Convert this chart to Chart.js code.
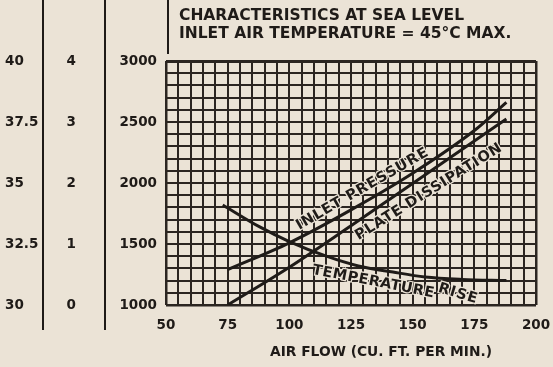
<!DOCTYPE html>
<html>
<head>
<meta charset="utf-8">
<script src="https://cdn.jsdelivr.net/npm/chart.js@4/dist/chart.umd.min.js"></script>
<style>
  html, body { margin: 0; padding: 0; background: #ebe3d6; }
  #wrap { width: 553px; height: 367px; position: relative; }
</style>
</head>
<body>
<div id="wrap"><canvas id="chart"></canvas></div>
<script>
// Air flow (cu. ft. per min.) at which the curves were read
const airFlow = [75, 100, 125, 150, 175, 188];
// Inlet pressure, inches of water
const inletPressure = [0.58, 1.02, 1.56, 2.16, 2.86, 3.32];
// Plate dissipation, watts
const plateDissipation = [1000, 1310, 1650, 1995, 2345, 2525];
// Temperature rise of the cooling air, deg C
const tempAirFlow = [73, 88, 100, 115, 128, 142, 155, 170, 188];
const temperatureRise = [34.1, 33.2, 32.6, 32.0, 31.6, 31.35, 31.15, 31.05, 31.0];

// Labelled ticks
const airFlowTicks = [50, 75, 100, 125, 150, 175, 200];
const dissipationTicks = [1000, 1500, 2000, 2500, 3000];
const pressureTicks = [0, 1, 2, 3, 4];
const temperatureTicks = [30, 32.5, 35, 37.5, 40];

const titleLines = ['CHARACTERISTICS AT SEA LEVEL', 'INLET AIR TEMPERATURE = 45°C MAX.'];
const xTitle = 'AIR FLOW (CU. FT. PER MIN.)';

const INK = '#1f1b18';
const GRID = '#2b2521';
const PAPER = '#ebe3d6';
const FONT = 'DejaVu Sans';

const pts = (xs, ys) => xs.map((x, i) => ({ x, y: ys[i] }));

// Curve captions, placed relative to their curve
const curveLabels = [
  { text: 'INLET PRESSURE', series: 1, at: 132, offset: -12, angle: -30, span: 150 },
  { text: 'PLATE DISSIPATION', series: 0, at: 153, offset: 16, angle: -32, span: 170 },
  { text: 'TEMPERATURE', series: 2, at: 135, offset: 13, angle: 11, span: 124 },
  { text: 'RISE', series: 2, at: 170, offset: 15, angle: 17, span: 40 }
];

function valueAt(data, x) {
  for (let i = 0; i < data.length - 1; i++) {
    const a = data[i], b = data[i + 1];
    if (x >= a.x && x <= b.x) return a.y + (b.y - a.y) * (x - a.x) / (b.x - a.x);
  }
  return data[data.length - 1].y;
}

const decorations = {
  id: 'decorations',
  beforeDraw(chart) {
    const ctx = chart.ctx;
    ctx.save();
    ctx.fillStyle = PAPER;
    ctx.fillRect(0, 0, chart.width, chart.height);
    ctx.restore();
  },
  afterDatasetsDraw(chart) {
    const ctx = chart.ctx;
    const xs = chart.scales.x;
    ctx.save();
    ctx.font = 'bold 14.5px "' + FONT + '"';
    ctx.fillStyle = INK;
    ctx.textAlign = 'center';
    ctx.textBaseline = 'middle';
    curveLabels.forEach(l => {
      const ds = chart.data.datasets[l.series];
      const ys = chart.scales[ds.yAxisID];
      const px = xs.getPixelForValue(l.at);
      const py = ys.getPixelForValue(valueAt(ds.data, l.at));
      const a = l.angle * Math.PI / 180;
      const cx = px - Math.sin(a) * l.offset;
      const cy = py + Math.cos(a) * l.offset;
      ctx.save();
      ctx.translate(cx, cy);
      ctx.rotate(a);
      ctx.letterSpacing = '0px';
      const w0 = ctx.measureText(l.text).width;
      const ls = Math.max(0, (l.span - w0) / (l.text.length - 1));
      ctx.letterSpacing = ls.toFixed(2) + 'px';
      ctx.lineWidth = 2.5;
      ctx.strokeStyle = PAPER;
      ctx.strokeText(l.text, ls / 2, 0);
      ctx.fillText(l.text, ls / 2, 0);
      ctx.restore();
    });
    ctx.restore();
  },
  afterDraw(chart) {
    const ctx = chart.ctx;
    const area = chart.chartArea;
    ctx.save();
    ctx.strokeStyle = INK;
    ctx.lineWidth = 2;
    // column rules between the auxiliary scales
    [chart.scales.yT.right, chart.scales.yP.right].forEach(x => {
      ctx.beginPath();
      ctx.moveTo(x, 0);
      ctx.lineTo(x, area.bottom + 25);
      ctx.stroke();
    });
    ctx.beginPath();
    ctx.moveTo(area.left + 2, 0);
    ctx.lineTo(area.left + 2, area.top - 7);
    ctx.stroke();

    ctx.fillStyle = INK;
    ctx.textAlign = 'left';
    ctx.textBaseline = 'middle';
    ctx.font = 'bold 15.5px "' + FONT + '"';
    ctx.fillText(titleLines[0], area.left + 13, 16);
    ctx.fillText(titleLines[1], area.left + 13, 34);

    ctx.font = 'bold 13.8px "' + FONT + '"';
    ctx.textAlign = 'center';
    ctx.fillText(xTitle, area.left + 215, area.bottom + 47);
    ctx.restore();
  }
};

const tickFont = { family: FONT, size: 13.5, weight: 'bold' };

new Chart(document.getElementById('chart'), {
  type: 'line',
  data: {
    datasets: [
      { label: 'Plate dissipation', data: pts(airFlow, plateDissipation), yAxisID: 'y' },
      { label: 'Inlet pressure', data: pts(airFlow, inletPressure), yAxisID: 'yP' },
      { label: 'Temperature rise', data: pts(tempAirFlow, temperatureRise), yAxisID: 'yT' }
    ]
  },
  options: {
    responsive: true,
    maintainAspectRatio: false,
    animation: false,
    devicePixelRatio: 1,
    layout: { padding: { left: 5, top: 61, right: 17, bottom: 0 } },
    elements: {
      line: { borderColor: INK, borderWidth: 3, cubicInterpolationMode: 'monotone', fill: false },
      point: { radius: 0, hoverRadius: 0 }
    },
    plugins: { legend: { display: false }, tooltip: { enabled: false }, title: { display: false } },
    scales: {
      x: {
        type: 'linear', min: 50, max: 200,
        grid: {
          color: GRID,
          lineWidth: c => (c.tick && (c.tick.value === 50 || c.tick.value === 200)) ? 2.5 : 2,
          drawTicks: false
        },
        border: { display: false },
        ticks: {
          stepSize: 5, autoSkip: false, maxRotation: 0, padding: 12,
          color: INK, font: tickFont,
          callback: v => airFlowTicks.includes(Math.round(v)) && Math.abs(v - Math.round(v)) < 1e-6 ? String(Math.round(v)) : ''
        },
        afterFit: s => { s.height = 62; s.paddingRight = 14; s.paddingLeft = 0; }
      },
      y: {
        type: 'linear', position: 'left', weight: 0, min: 1000, max: 3000,
        grid: {
          color: GRID,
          lineWidth: c => (c.tick && c.tick.value === 3000) ? 3 : (c.tick && c.tick.value === 1000 ? 2.5 : 2),
          drawTicks: false
        },
        border: { display: false },
        ticks: {
          stepSize: 100, autoSkip: false, padding: 9, crossAlign: 'near',
          color: INK, font: tickFont,
          callback: v => dissipationTicks.includes(Math.round(v)) ? String(Math.round(v)) : ''
        },
        afterFit: s => { s.width = 61; }
      },
      yP: {
        type: 'linear', position: 'left', weight: 1, min: 0, max: 4,
        grid: { display: false, drawTicks: false },
        border: { display: false },
        afterBuildTicks: s => { s.ticks = pressureTicks.map(v => ({ value: v })); },
        ticks: { padding: 29, crossAlign: 'center', color: INK, font: tickFont, callback: v => String(v) },
        afterFit: s => { s.width = 62; }
      },
      yT: {
        type: 'linear', position: 'left', weight: 2, min: 30, max: 40,
        grid: { display: false, drawTicks: false },
        border: { display: false },
        afterBuildTicks: s => { s.ticks = temperatureTicks.map(v => ({ value: v })); },
        ticks: { padding: 0, crossAlign: 'far', color: INK, font: tickFont, callback: v => String(v) },
        afterFit: s => { s.width = 38; }
      }
    }
  },
  plugins: [decorations]
});
</script>
</body>
</html>
